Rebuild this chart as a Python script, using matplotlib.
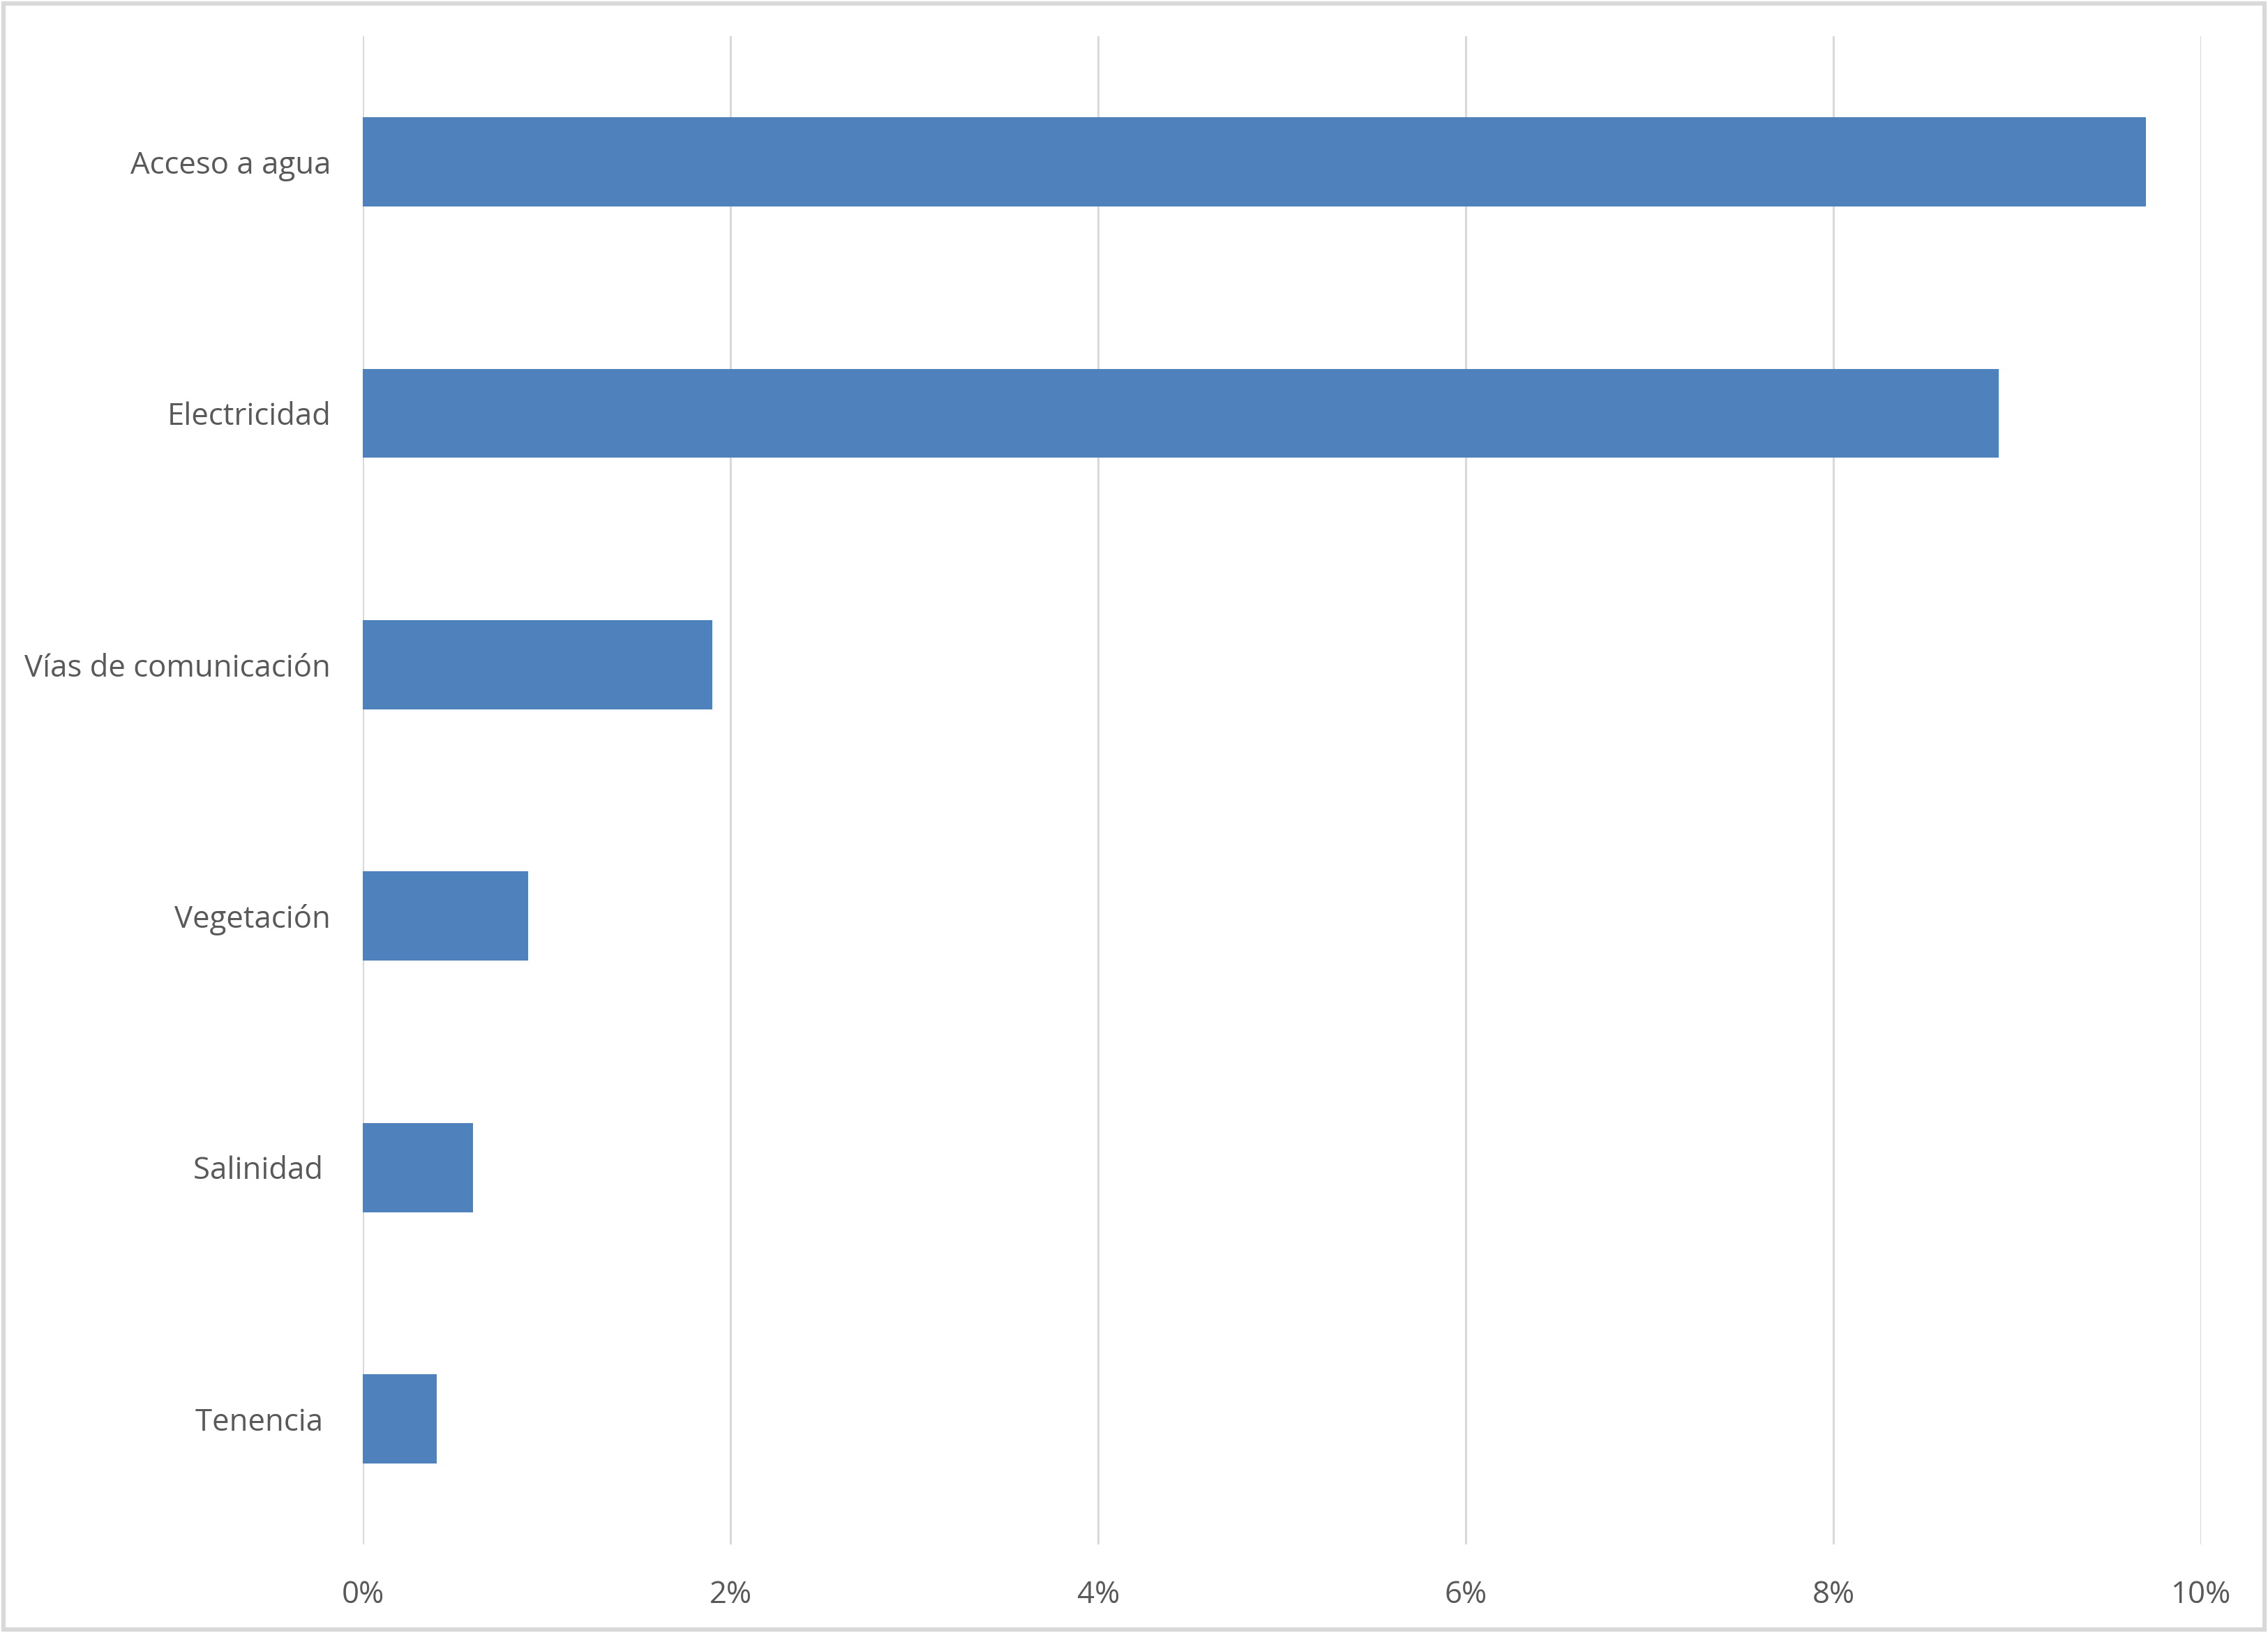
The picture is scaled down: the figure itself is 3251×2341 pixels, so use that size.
import matplotlib.pyplot as plt
import matplotlib.patches as patches
from matplotlib.ticker import PercentFormatter

# Data (share of responses)
categorias = ['Acceso a agua', 'Electricidad', 'Vías de comunicación',
              'Vegetación', 'Salinidad ', 'Tenencia ']
valores = [0.097, 0.089, 0.019, 0.009, 0.006, 0.004]
ticks_x = [0, 0.02, 0.04, 0.06, 0.08, 0.10]

plt.rcParams['font.family'] = ['Open Sans', 'DejaVu Sans']

fig = plt.figure(figsize=(3251 / 300, 2341 / 300), dpi=300)
ax = fig.add_axes([0.16, 0.0542, 0.8105, 0.9236])

pos = list(range(len(categorias)))
ax.barh(pos, valores, height=0.355, color='#4f81bd', zorder=3)

ax.set_ylim(len(categorias) - 0.5, -0.5)
ax.set_yticks(pos)
ax.set_yticklabels(categorias)
ax.set_xlim(0, 0.10)
ax.set_xticks(ticks_x)
ax.xaxis.set_major_formatter(PercentFormatter(xmax=1, decimals=0))

ax.grid(axis='x', color='#d9d9d9', linewidth=0.75, zorder=0)
for s in ax.spines.values():
    s.set_visible(False)
ax.tick_params(axis='both', length=0, labelsize=10.5, colors='#595959')
ax.tick_params(axis='y', pad=11)
ax.tick_params(axis='x', pad=12)

# light border around the chart area
fig.patches.append(patches.Rectangle((0.0015, 0.002), 0.997, 0.996, transform=fig.transFigure,
                                     fill=False, edgecolor='#d9d9d9', linewidth=1.5))

plt.savefig('out.png', dpi=300)
